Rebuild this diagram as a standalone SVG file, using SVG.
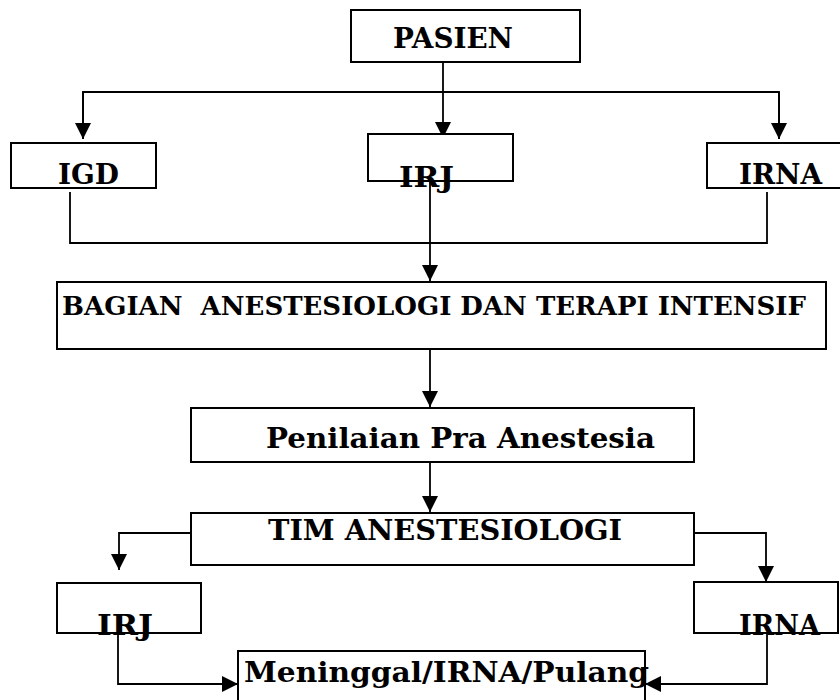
<svg xmlns="http://www.w3.org/2000/svg" width="840" height="700" viewBox="0 0 840 700">
<style>
.box{fill:#fff;stroke:#000;stroke-width:2}
.lbl{font-family:"DejaVu Serif","Liberation Serif",serif;font-weight:bold;font-size:28px;fill:#000}
.ln{fill:none;stroke:#000;stroke-width:1.8}
</style>
<defs>
<marker id="ah" markerUnits="userSpaceOnUse" markerWidth="16" markerHeight="16" refX="16" refY="8" orient="auto">
<path d="M0,0 L16,8 L0,16 z" fill="#000"/>
</marker>
</defs>
<rect width="840" height="700" fill="#fff"/>
<g id="connectors">
<path class="ln" d="M443,62 V138" marker-end="url(#ah)"/>
<path class="ln" d="M83,139 V92 H779 V139" />
<path class="ln" d="M83,92 V139" marker-end="url(#ah)"/>
<path class="ln" d="M779,92 V139" marker-end="url(#ah)"/>
<path class="ln" d="M70,192 V243 H767 V192"/>
<path class="ln" d="M430,181 V281" marker-end="url(#ah)"/>
<path class="ln" d="M430,349 V407" marker-end="url(#ah)"/>
<path class="ln" d="M430,462 V512" marker-end="url(#ah)"/>
<path class="ln" d="M191,533 H119 V570" marker-end="url(#ah)"/>
<path class="ln" d="M694,533 H766 V582" marker-end="url(#ah)"/>
<path class="ln" d="M118,633 V684 H238" marker-end="url(#ah)"/>
<path class="ln" d="M767,633 V684 H645" marker-end="url(#ah)"/>
</g>
<g id="pasien">
<rect class="box" x="351" y="10" width="229" height="52"/>
<text class="lbl" x="393" y="48" textLength="120" lengthAdjust="spacingAndGlyphs">PASIEN</text>
</g>
<g id="igd">
<rect class="box" x="11" y="143" width="145" height="45"/>
<text class="lbl" x="58" y="184" textLength="61" lengthAdjust="spacingAndGlyphs">IGD</text>
</g>
<g id="irj1">
<rect class="box" x="368" y="134" width="145" height="47"/>
<text class="lbl" x="399" y="187" textLength="55" lengthAdjust="spacingAndGlyphs">IRJ</text>
</g>
<g id="irna1">
<rect class="box" x="707" y="143" width="135" height="45"/>
<text class="lbl" x="739" y="184" textLength="83" lengthAdjust="spacingAndGlyphs">IRNA</text>
</g>
<g id="bagian">
<rect class="box" x="57" y="282" width="769" height="67"/>
<text class="lbl" x="62" y="315" style="font-size:26.5px" textLength="744" lengthAdjust="spacingAndGlyphs" xml:space="preserve">BAGIAN  ANESTESIOLOGI DAN TERAPI INTENSIF</text>
</g>
<g id="penilaian">
<rect class="box" x="191" y="408" width="503" height="54"/>
<text class="lbl" x="266" y="448" textLength="389" lengthAdjust="spacingAndGlyphs">Penilaian Pra Anestesia</text>
</g>
<g id="tim">
<rect class="box" x="191" y="513" width="503" height="52"/>
<text class="lbl" x="268" y="540" textLength="354" lengthAdjust="spacingAndGlyphs">TIM ANESTESIOLOGI</text>
</g>
<g id="irj2">
<rect class="box" x="57" y="583" width="144" height="50"/>
<text class="lbl" x="97" y="635" textLength="56" lengthAdjust="spacingAndGlyphs">IRJ</text>
</g>
<g id="irna2">
<rect class="box" x="694" y="582" width="144" height="51"/>
<text class="lbl" x="739" y="635" textLength="81" lengthAdjust="spacingAndGlyphs">IRNA</text>
</g>
<g id="meninggal">
<rect class="box" x="238" y="651" width="407" height="70"/>
<text class="lbl" x="244" y="682" textLength="405" lengthAdjust="spacingAndGlyphs">Meninggal/IRNA/Pulang</text>
</g>
</svg>
